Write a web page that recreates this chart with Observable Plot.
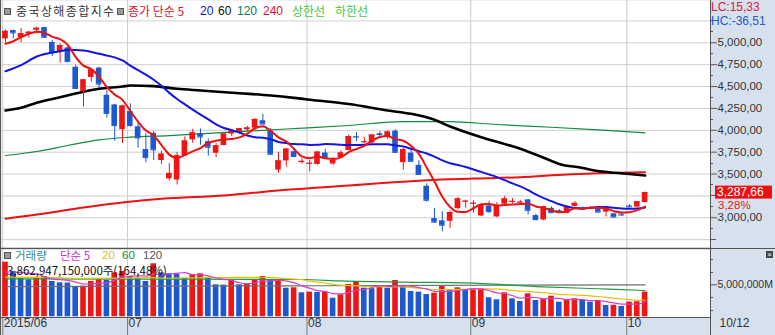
<!DOCTYPE html>
<html><head><meta charset="utf-8">
<script src="https://cdn.jsdelivr.net/npm/d3@7"></script>
<script src="https://cdn.jsdelivr.net/npm/@observablehq/plot@0.6"></script>
<style>
body{margin:0;background:#fff;}
#chart{position:relative;width:775px;height:335px;overflow:hidden;background:#d7e1ee;font-family:"Liberation Sans","Noto Sans CJK KR",sans-serif;}
#chart svg{position:absolute;left:0;}
.lg{position:absolute;font-size:12px;white-space:nowrap;line-height:14px;}
.ko{font-family:"Noto Sans CJK KR","Liberation Sans",sans-serif;}
.sq{position:absolute;width:5px;height:5px;background:#9a9a9a;border:1px solid #555;}
.ln{position:absolute;background:#555;}
</style></head><body><div id="chart"></div>
<script>
// ---------- data ----------
const dates = ["06/08","06/09","06/10","06/11","06/12","06/15","06/16","06/17","06/18","06/19","06/23","06/24","06/25","06/26","06/29","06/30",
"07/01","07/02","07/03","07/06","07/07","07/08","07/09","07/10","07/13","07/14","07/15","07/16","07/17","07/20","07/21","07/22","07/23","07/24","07/27","07/28","07/29","07/30","07/31",
"08/03","08/04","08/05","08/06","08/07","08/10","08/11","08/12","08/13","08/14","08/17","08/18","08/19","08/20","08/21","08/24","08/25","08/26","08/27","08/28","08/31",
"09/01","09/02","09/07","09/08","09/09","09/10","09/11","09/14","09/15","09/16","09/17","09/18","09/21","09/22","09/23","09/24","09/25","09/28","09/29","09/30",
"10/08","10/09","10/12"];
const open = [5045,5140,5060,5100,5143,5174,5004,4890,4942,4720,4440,4604,4711,4400,4290,4007,
4214,4040,3780,3965,3655,3445,3432,3707,3891,3960,3870,3738,3826,3957,3984,4005,4024,4109,3990,3545,3650,3755,3630,
3614,3610,3740,3615,3690,3770,3928,3860,3855,3960,3921,3990,3630,3740,3600,3360,2990,2965,2960,3105,3180,
3160,3020,3135,3010,3155,3180,3170,3205,3025,2975,3108,3080,3050,3130,3110,3105,3120,3065,3045,3040,
3135,3122,3175];
const high = [5147,5147,5164,5130,5178,5177,5030,4985,4966,4744,4578,4692,4721,4457,4297,4287,
4303,4080,3960,3985,3760,3621,3748,3925,4010,4015,3900,3850,3963,3998,4018,4044,4133,4184,4020,3750,3789,3790,3675,
3657,3758,3782,3690,3764,3944,3975,3920,3955,3985,3994,4006,3790,3790,3653,3388,3105,3070,3080,3232,3203,
3195,3160,3190,3175,3245,3220,3200,3210,3040,3135,3125,3095,3135,3185,3125,3130,3130,3100,3050,3050,
3150,3185,3293];
const low = [5000,5045,5001,5053,5103,5049,4842,4768,4781,4477,4265,4552,4483,4140,3875,3848,
4035,3795,3629,3654,3610,3421,3374,3707,3850,3830,3704,3688,3823,3927,3952,3985,4004,4064,3711,3510,3580,3690,3615,
3525,3600,3682,3600,3686,3770,3870,3845,3850,3920,3895,3743,3545,3640,3490,3180,2935,2840,2880,3090,3109,
3053,3015,3050,3000,3150,3160,3150,3030,2965,2965,3050,3055,3045,3125,3095,3100,3060,3010,3000,3020,
3120,3118,3170];
const close = [5131,5113,5106,5121,5166,5063,4887,4968,4785,4478,4576,4690,4528,4193,4053,4277,
4054,3913,3687,3776,3727,3507,3709,3878,3970,3924,3806,3823,3957,3992,4018,4026,4124,4071,3726,3650,3785,3700,3645,
3623,3750,3685,3655,3740,3928,3922,3868,3945,3952,3980,3748,3780,3645,3495,3200,2950,2915,3060,3215,3190,
3166,3140,3070,3140,3215,3188,3178,3085,2980,3125,3058,3070,3125,3165,3100,3112,3065,3090,3008,3032,
3125,3183.15,3287.66];
// volume in units of 1,000,000M (조)
const volume = [8.53,7.08,6.03,5.78,6.05,6.30,5.52,5.31,5.27,4.73,4.78,5.52,5.78,5.70,6.88,7.08,
6.30,6.03,5.52,8.28,6.88,6.72,6.65,6.03,6.56,6.72,6.03,5.00,4.95,5.67,5.00,5.16,5.78,6.30,5.70,5.75,4.47,4.53,3.75,
3.85,3.80,3.85,2.91,3.44,5.05,5.52,4.47,4.40,4.89,4.47,5.67,4.89,3.95,3.85,3.48,3.69,4.73,4.11,4.53,4.22,
4.38,4.42,2.97,2.66,3.75,2.81,2.39,3.59,2.55,2.70,3.22,2.28,2.66,2.81,2.55,2.28,2.44,1.77,1.80,1.61,
2.30,2.3486,3.86294715];

// moving-average values (before enough bars exist, and the long averages)
const ma5Head = [4989,5018,5064,5103];
const ma20HeadIdx = [0,2,4,7,8,10,12,15,16];
const ma20HeadVal = [4675,4745,4843,4904,4920,4912,4874,4798,4740];
const ma60Idx = [0,2,4,7,10,12,15,16,19,22,25,30,34,37,39,44,49,52,55,57,61,66,70,71,74,75,78,80,82];
const ma60Val = [4226,4257,4315,4378,4440,4474,4500,4512,4505,4474,4455,4424,4398,4371,4350,4300,4226,4188,4120,4043,3921,3788,3650,3615,3570,3550,3515,3500,3483];
const ma120Idx = [0,4,8,12,16,21,25,36,44,51,57,63,70,76,82];
const ma120Val = [3712,3758,3826,3891,3921,3940,3960,4015,4055,4100,4100,4066,4035,4005,3971];
const ma240Idx = [0,5,10,15,20,28,36,44,52,57,60,66,72,76,82];
const ma240Val = [2990,3049,3117,3175,3217,3255,3320,3369,3418,3440,3448,3464,3495,3510,3521];

const vma5Head = [7.0,7.0,6.9,6.8];
const vma20HeadIdx = [0,5,10,15];
const vma20HeadVal = [6.2,6.15,6.0,6.05];
const vma60Idx = [0,20,38,43,51,59,68,76,82];
const vma60Val = [5.94,5.9,5.83,5.6,5.41,5.31,4.73,4.38,4.11];
const vma120Idx = [0,40,82];
const vma120Val = [4.73,4.85,5.0];

const monthStart = [0,16,39,60,80];
const monthLabel = ["2015/06","07","08","09","10"];
const lastLabel = "10/12";
const priceTicks = [5000,4750,4500,4250,4000,3750,3500,3000];
const priceBareTicks = [5250,3250,2750];
const priceMinor = [5125,4875,4625,4375,4125,3875,3625,3375,3125,2875];
const volTicks = [5];
const volMinor = [1,3,7,9];

// ---------- derived ----------
const n = close.length;
const idx = d3.range(n);
const candles = idx.map(i => ({i, o: open[i], h: high[i], l: low[i], c: close[i], up: close[i] >= open[i]}));
const vols = idx.map(i => ({i, v: volume[i], up: i === 0 || volume[i] >= volume[i-1]}));
function sma(arr, k, headIdx, headVal) {
  const out = headIdx.map((j, t) => ({i: j, v: headVal[t]}));
  for (let i = k - 1; i < arr.length; i++) out.push({i, v: d3.mean(arr.slice(i - k + 1, i + 1))});
  return out;
}
const pts = (I, V) => I.map((i, t) => ({i, v: V[t]}));
const ma5 = sma(close, 5, [0,1,2,3], ma5Head);
const ma20 = sma(close, 20, ma20HeadIdx, ma20HeadVal);
const vma5 = sma(volume, 5, [0,1,2,3], vma5Head);
const vma20 = sma(volume, 20, vma20HeadIdx, vma20HeadVal);

const RED = "#f01515", BLUE = "#1c58d0";
const comma2 = v => d3.format(",.2f")(v).replace(/\.(\d\d)$/, ",$1");
const xDomain = [-0.513, 90.385];
const bw = 0.36;
const font = '"Liberation Sans","Noto Sans CJK KR",sans-serif';
const bounds = monthStart.map(i => i - 0.35);

const chart = document.getElementById("chart");

// tick marks on the right axis (no text), drawn through the y scale
function tickMarks(values, size) {
  return (index, scales, v, dims) => {
    const x0 = scales.x(xDomain[1]);
    const g = d3.create("svg:g").attr("stroke", "#555");
    for (const t of values) {
      const y = Math.round(scales.y(t)) + 0.5;
      g.append("line").attr("x1", x0).attr("x2", x0 + size).attr("y1", y).attr("y2", y);
    }
    return g.node();
  };
}

// ---------- price panel ----------
const lastC = close[n-1], prevC = close[n-2];
function priceTag(index, scales, values, dims) {
  const y = scales.y(lastC);
  const x0 = scales.x(xDomain[1]);
  const g = d3.create("svg:g").attr("font-family", font).attr("font-size", 12).attr("text-anchor", "start");
  g.append("rect").attr("x", x0 + 5).attr("y", y - 6.5).attr("width", 57).attr("height", 13).attr("fill", "#ee1010");
  g.append("text").attr("x", x0 + 7).attr("y", y).attr("dy", "0.36em").attr("fill", "#fff").text(comma2(lastC));
  g.append("text").attr("x", x0 + 8).attr("y", y + 13).attr("dy", "0.36em").attr("font-size", 11.5).attr("fill", "#e02020")
    .text(((lastC / prevC - 1) * 100).toFixed(2).replace(".", ",") + "%");
  return g.node();
}
const price = Plot.plot({
  width: 775, height: 249, marginLeft: 1, marginRight: 65, marginTop: 0, marginBottom: 1,
  x: {type: "linear", domain: xDomain, axis: null},
  y: {domain: [2649, 5483.5], axis: null},
  style: {background: "transparent", fontFamily: font, overflow: "visible"},
  marks: [
    Plot.frame({fill: "white", stroke: null}),
    Plot.gridY([...priceTicks, ...priceBareTicks], {stroke: "#cfcfcf", strokeOpacity: 1}),
    Plot.gridX(bounds, {stroke: "#cccccc", strokeOpacity: 1}),
    Plot.line(pts(ma240Idx, ma240Val), {x: "i", y: "v", stroke: "#ee1111", strokeWidth: 2, curve: "monotone-x"}),
    Plot.line(pts(ma120Idx, ma120Val), {x: "i", y: "v", stroke: "#138a3a", strokeWidth: 1.2, curve: "monotone-x"}),
    Plot.line(pts(ma60Idx, ma60Val), {x: "i", y: "v", stroke: "#000", strokeWidth: 2.6, curve: "monotone-x"}),
    Plot.ruleX(candles, {x: "i", y1: "l", y2: "h", stroke: d => d.up ? RED : BLUE, strokeWidth: 1}),
    Plot.rect(candles, {x1: d => d.i - bw, x2: d => d.i + bw, y1: "o", y2: "c", fill: d => d.up ? RED : BLUE}),
    Plot.ruleY(candles, {x1: d => d.i - bw, x2: d => d.i + bw, y: "c", stroke: d => d.up ? RED : BLUE}),
    Plot.line(ma20, {x: "i", y: "v", stroke: "#1414e6", strokeWidth: 2, curve: "monotone-x"}),
    Plot.line(ma5, {x: "i", y: "v", stroke: "#f01010", strokeWidth: 2, curve: "monotone-x"}),
    Plot.axisY(priceTicks, {anchor: "right", label: null, tickSize: 6, tickPadding: 1, tickFormat: comma2, fill: "#333", stroke: "#555", fontSize: 11.5}),
    tickMarks(priceBareTicks, 6),
    tickMarks(priceMinor, 3),
    Plot.frame({anchor: "bottom", stroke: "#555", strokeWidth: 1.5}),
    priceTag
  ]
});
price.style.top = "0px";
chart.appendChild(price);

// ---------- volume panel ----------
const volPlot = Plot.plot({
  width: 775, height: 86, marginLeft: 1, marginRight: 65, marginTop: 0, marginBottom: 18,
  x: {type: "linear", domain: xDomain, axis: null},
  y: {domain: [-0.109, 10.516], axis: null},
  style: {background: "transparent", fontFamily: font, overflow: "visible"},
  marks: [
    Plot.frame({fill: "white", stroke: null}),
    Plot.gridX(bounds, {stroke: "#cccccc", strokeOpacity: 1}),
    Plot.rect(vols, {x1: d => d.i - bw, x2: d => d.i + bw, y1: 0, y2: "v", fill: d => d.up ? RED : BLUE}),
    Plot.line(pts(vma120Idx, vma120Val), {x: "i", y: "v", stroke: "#6e6e6e", strokeWidth: 1.2, curve: "monotone-x"}),
    Plot.line(pts(vma60Idx, vma60Val), {x: "i", y: "v", stroke: "#1f9a3c", strokeWidth: 1.2, curve: "monotone-x"}),
    Plot.line(vma20, {x: "i", y: "v", stroke: "#e6c200", strokeWidth: 1.2, curve: "monotone-x"}),
    Plot.line(vma5, {x: "i", y: "v", stroke: "#d63cd6", strokeWidth: 1.2, curve: "monotone-x"}),
    Plot.axisY(volTicks, {anchor: "right", label: null, tickSize: 6, tickPadding: 1, tickFormat: d => d3.format(",")(d * 1e6) + "M", fill: "#333", stroke: "#555", fontSize: 10.5}),
    tickMarks(volMinor, 3),
    Plot.axisX(bounds, {anchor: "bottom", label: null, tickSize: 18, tickFormat: () => "", stroke: "#777"}),
    Plot.text(bounds, {x: d => d, frameAnchor: "bottom", dy: 9, dx: 1, text: (d, k) => monthLabel[k], textAnchor: "start", fill: "#333", fontSize: 12}),
    Plot.text([lastLabel], {frameAnchor: "bottom-right", dx: 9, dy: 9, text: d => d, textAnchor: "start", fill: "#333", fontSize: 12}),
    Plot.frame({anchor: "bottom", stroke: "#555", strokeWidth: 1.2})
  ]
});
volPlot.style.top = "249px";
chart.appendChild(volPlot);

// ---------- decorations / legends ----------
function add(html, style, cls) { const d = document.createElement("div"); d.className = cls || "lg"; d.innerHTML = html; Object.assign(d.style, style); chart.appendChild(d); return d; }
add("", {left: "0px", top: "0px", width: "1px", height: "335px"}, "ln");
add("", {left: "710px", top: "0px", width: "1px", height: "335px"}, "ln");
add("", {left: "0px", top: "247.5px", width: "775px", height: "1.5px"}, "ln");

add("", {left: "4px", top: "8px"}, "sq");
add("중국상해종합지수", {left: "16px", top: "4px", color: "#333", letterSpacing: "1.4px"}, "lg ko");
add("", {left: "117px", top: "8px"}, "sq");
add("종가 단순 5", {left: "128px", top: "4px", color: "#e0102a"}, "lg ko");
add("20", {left: "200px", top: "4px", color: "#1010c8"});
add("60", {left: "218px", top: "4px", color: "#111"});
add("120", {left: "237px", top: "4px", color: "#008060"});
add("240", {left: "263px", top: "4px", color: "#d01030"});
add("상한선", {left: "292px", top: "4px", color: "#3cc83c"}, "lg ko");
add("하한선", {left: "335px", top: "4px", color: "#3cc83c"}, "lg ko");
add("LC:15,33", {left: "711px", top: "0px", color: "#d81b3c"});
add("HC:-36,51", {left: "711px", top: "13.5px", color: "#2457c8"});

add("", {left: "4px", top: "252px"}, "sq");
const vl = {top: "249px", lineHeight: "12px", fontSize: "11.5px"};
add("거래량", {...vl, left: "15px", color: "#3a8c8c"}, "lg ko");
add("단순 5", {...vl, left: "60px", color: "#cc33cc"}, "lg ko");
add("20", {...vl, left: "102px", color: "#e0c020"});
add("60", {...vl, left: "122px", color: "#2a8a2a"});
add("120", {...vl, left: "143px", color: "#555"});
const lastV = volume[n-1], prevV = volume[n-2];
add(d3.format(",.0f")(lastV * 1e12) + "주(" + (lastV / prevV * 100).toFixed(2).replace(".", ",") + "%)", {left: "7px", top: "264px", lineHeight: "12px", fontSize: "11.5px", color: "#111"}, "lg ko");
add("×", {left: "766px", top: "251px", width: "7px", height: "7px", background: "#444", color: "#fff", fontSize: "8px", lineHeight: "7px", textAlign: "center"});
</script></body></html>
